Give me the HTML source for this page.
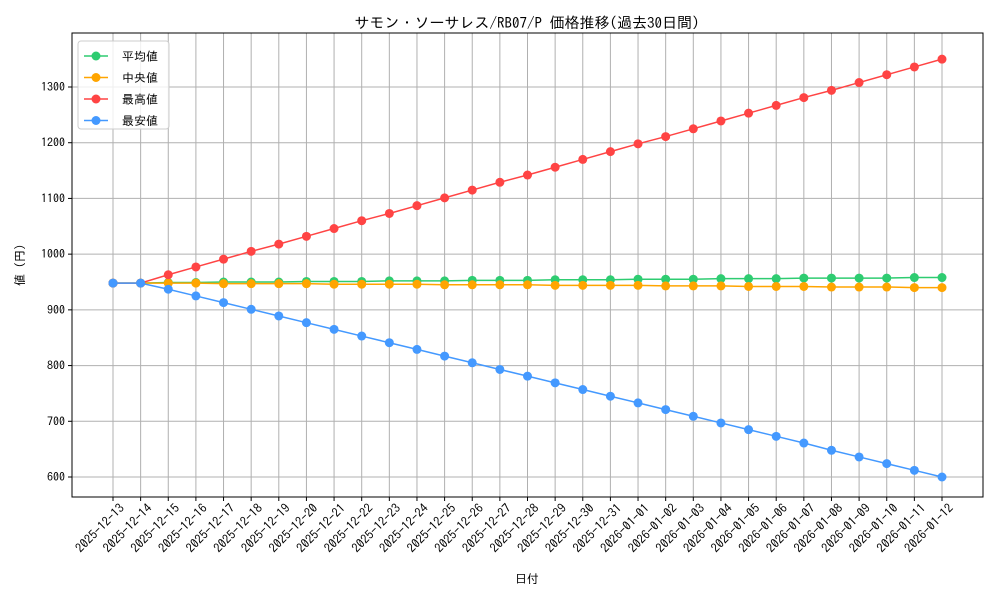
<!DOCTYPE html>
<html><head><meta charset="utf-8"><style>
body{margin:0;background:#fff;}
svg text{font-family:"IPAGothic","Liberation Sans","Noto Sans CJK JP",sans-serif;fill:#000;}
</style></head><body>
<svg id="chart" width="1000" height="600" xmlns="http://www.w3.org/2000/svg"></svg>
<script>
const dates=["2025-12-13","2025-12-14","2025-12-15","2025-12-16","2025-12-17","2025-12-18","2025-12-19","2025-12-20","2025-12-21","2025-12-22","2025-12-23","2025-12-24","2025-12-25","2025-12-26","2025-12-27","2025-12-28","2025-12-29","2025-12-30","2025-12-31","2026-01-01","2026-01-02","2026-01-03","2026-01-04","2026-01-05","2026-01-06","2026-01-07","2026-01-08","2026-01-09","2026-01-10","2026-01-11","2026-01-12"];
const avgVals=[948,948,949,949,950,950,950,951,951,951,952,952,952,953,953,953,954,954,954,955,955,955,956,956,956,957,957,957,957,958,958];
const medVals=[948,948,948,948,947,947,947,947,946,946,946,946,945,945,945,945,944,944,944,944,943,943,943,942,942,942,941,941,941,940,940];
const maxVals=[948,948,963,977,991,1005,1018,1032,1046,1060,1073,1087,1101,1115,1129,1142,1156,1170,1184,1198,1211,1225,1239,1253,1267,1281,1294,1308,1322,1336,1350];
const minVals=[948,948,937,925,913,901,889,877,865,853,841,829,817,805,793,781,769,757,745,733,721,709,697,685,673,661,648,636,624,612,600];
const yTicks=[600,700,800,900,1000,1100,1200,1300];
const seriesNames=["平均値","中央値","最高値","最安値"];
const svg=document.getElementById('chart');
const NS="http://www.w3.org/2000/svg";
const L=72,R=983,T=33,B=497;
const x0=113,x1=942;
function xs(i){return x0+(x1-x0)*i/(dates.length-1);}
function ys(v){return 477-(v-600)*(390/700);}
function mk(tag,attrs,parent){const e=document.createElementNS(NS,tag);for(const k in attrs)e.setAttribute(k,attrs[k]);(parent||svg).appendChild(e);return e;}
dates.forEach((d,i)=>{const g=mk('line',{x1:xs(i),x2:xs(i),y1:T,y2:B,stroke:'#b0b0b0','stroke-width':1});


mk('line',{x1:xs(i),x2:xs(i),y1:B,y2:B+4,stroke:'#000'});
const ax=xs(i)+12, ay=B+12;
const t=mk('text',{x:ax,y:ay,'font-size':12.5,'text-anchor':'end',transform:`rotate(-45 ${ax} ${ay})`});t.textContent=d;

});
yTicks.forEach(v=>{const g=mk('line',{x1:L,x2:R,y1:ys(v),y2:ys(v),stroke:'#b0b0b0','stroke-width':1});


mk('line',{x1:L-4,x2:L,y1:ys(v),y2:ys(v),stroke:'#000'});
const t=mk('text',{x:L-7,y:ys(v)+4,'font-size':12,'text-anchor':'end'});t.textContent=v;

});
const frame=mk('rect',{x:L,y:T,width:R-L,height:B-T,fill:'none',stroke:'#000','stroke-width':1});


const series=[[avgVals,'#2ecc71','avg'],[medVals,'#ffa500','median'],[maxVals,'#ff4444','max'],[minVals,'#4499ff','min']];
series.forEach(([vals,c,n])=>{
const p=mk('polyline',{points:vals.map((v,i)=>xs(i)+','+ys(v)).join(' '),fill:'none',stroke:c,'stroke-width':1.5});


vals.forEach((v,i)=>{const m=mk('circle',{cx:xs(i),cy:ys(v),r:4.5,fill:c});

});});
const title=mk('text',{x:527,y:28,'font-size':15,'text-anchor':'middle'});title.textContent="サモン・ソーサレス/RB07/P 価格推移(過去30日間)";


const xl=mk('text',{x:527,y:583,'font-size':12,'text-anchor':'middle'});xl.textContent="日付";


const yl=mk('text',{x:24,y:265,'font-size':12,'text-anchor':'middle',transform:'rotate(-90 24 265)'});yl.textContent="値 (円)";


const lg=mk('g',{});


mk('rect',{x:78,y:41,width:91,height:88,rx:3,fill:'#fff','fill-opacity':0.8,stroke:'#ccc'},lg);
series.forEach(([v,c,n],k)=>{const y=56+k*21.5;
mk('line',{x1:84,x2:108,y1:y,y2:y,stroke:c,'stroke-width':1.5},lg);
mk('circle',{cx:96,cy:y,r:4.5,fill:c},lg);
const t=mk('text',{x:122,y:y+4.5,'font-size':12},lg);t.textContent=seriesNames[k];

});
</script>
</body></html>
